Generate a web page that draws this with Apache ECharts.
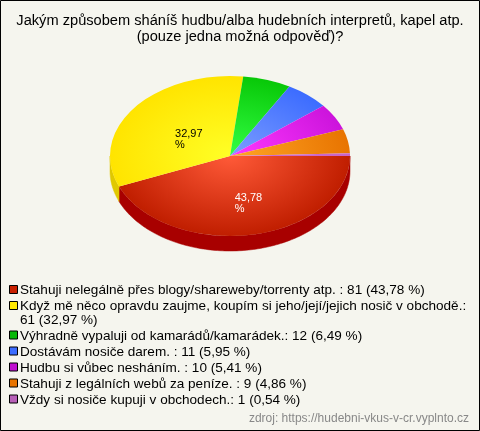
<!DOCTYPE html>
<html><head><meta charset="utf-8">
<style>html,body{margin:0;padding:0;background:#f5f5ee}#c{width:480px;height:431px}</style>
<script src="https://cdn.jsdelivr.net/npm/echarts@6/dist/echarts.min.js"></script>
</head><body><div id="c"></div>
<script>
const titleText = 'Jakým způsobem sháníš hudbu/alba hudebních interpretů, kapel atp.\n(pouze jedna možná odpověď)?';
const sourceText = 'zdroj: https://hudebni-vkus-v-cr.vyplnto.cz';
const categories = [
  'Stahuji nelegálně přes blogy/shareweby/torrenty atp. :',
  'Když mě něco opravdu zaujme, koupím si jeho/její/jejich nosič v obchodě.:',
  'Výhradně vypaluji od kamarádů/kamarádek.:',
  'Dostávám nosiče darem. :',
  'Hudbu si vůbec nesháním. :',
  'Stahuji z legálních webů za peníze. :',
  'Vždy si nosiče kupuji v obchodech.:'
];
const counts = [81, 61, 12, 11, 10, 9, 1];
const percents = ['43,78', '32,97', '6,49', '5,95', '5,41', '4,86', '0,54'];
const wrapped = [false, true, false, false, false, false, false];
const centerColors = ['#ff5a38', '#ffff26', '#33ff44', '#7c9dff', '#ff38ff', '#ffa626', '#d070d0'];
const edgeColors = ['#c01e00', '#ffe400', '#08c808', '#3c6cff', '#cc14dc', '#e87400', '#c864c8'];
const sideColors = ['#a80000', '#e0c800', '#00a000', '#2040c0', '#9000a0', '#b05000', '#904090'];
const legendColors = ['#c82000', '#ffe800', '#08b808', '#3c6cff', '#c010d0', '#e87400', '#b860b8'];

const CX = 230, CY = 156, RX = 120, RY = 80, DEPTH = 15;
const total = counts.reduce((a, b) => a + b, 0);
const FONT = '"Liberation Sans", Arial, sans-serif';

function renderSlice(params, api) {
  const i = params.dataIndex;
  let before = 0;
  for (let k = 0; k < i; k++) before += counts[k];
  const a0 = before / total * Math.PI * 2;
  const a1 = (before + api.value(0)) / total * Math.PI * 2;
  const children = [];
  const s0 = Math.min(a0, Math.PI), s1 = Math.min(a1, Math.PI);
  if (s1 > s0) {
    const top = [], bottom = [];
    const steps = Math.max(2, Math.ceil((s1 - s0) / 0.02));
    for (let n = 0; n <= steps; n++) {
      const a = s0 + (s1 - s0) * n / steps;
      const x = CX + RX * Math.cos(a), y = CY + RY * Math.sin(a);
      top.push([x, y]);
      bottom.unshift([x, y + DEPTH]);
    }
    children.push({ type: 'polygon', shape: { points: top.concat(bottom) },
      style: { fill: sideColors[i], stroke: sideColors[i], lineWidth: 0.5 } });
  }
  children.push({
    type: 'group', x: CX, y: CY, scaleX: 1, scaleY: RY / RX,
    children: [{
      type: 'sector',
      shape: { cx: 0, cy: 0, r0: 0, r: RX, startAngle: a0, endAngle: a1, clockwise: true },
      style: { fill: { type: 'radial', x: 0, y: 0, r: RX, global: true,
        colorStops: [{ offset: 0, color: centerColors[i] }, { offset: 1, color: edgeColors[i] }] } }
    }]
  });
  if (api.value(0) / total > 0.1) {
    const m = (a0 + a1) / 2;
    children.push({
      type: 'text', x: CX + RX * 0.5 * Math.cos(m) - 7, y: CY + RY * 0.5 * Math.sin(m) - 3,
      style: { text: percents[i] + '\n%', font: '11px ' + FONT, lineHeight: 11,
        fill: i === 0 ? '#ffffff' : '#000000' }
    });
  }
  return { type: 'group', children };
}

const graphicEls = [
  { type: 'rect', shape: { x: 0.5, y: 0.5, width: 479, height: 430 }, style: { fill: '#f5f5ee', stroke: '#000', lineWidth: 1 }, z: -10 },
  { type: 'text', x: 240, y: 13, scaleX: 1.045, style: { text: titleText, font: '14px ' + FONT, lineHeight: 16, align: 'center', fill: '#000' } },
  { type: 'text', x: 469, y: 413, style: { text: sourceText, font: '12px ' + FONT, align: 'right', fill: '#888' } }
];
let rowY = 290;
categories.forEach((name, i) => {
  graphicEls.push({ type: 'rect', shape: { x: 9.5, y: rowY - 4.5, width: 8, height: 8 },
    style: { fill: legendColors[i], stroke: '#000', lineWidth: 1 } });
  const value = counts[i] + ' (' + percents[i] + ' %)';
  graphicEls.push({ type: 'text', x: 20, y: rowY - 6.5, scaleX: 1.043,
    style: { text: name + (wrapped[i] ? '\n' : ' ') + value, font: '13px ' + FONT, lineHeight: 14, fill: '#000' } });
  rowY += wrapped[i] ? 29.5 : 16;
});

const chart = echarts.init(document.getElementById('c'), null, { renderer: 'canvas' });
chart.setOption({
  animation: false,
  backgroundColor: '#f5f5ee',
  graphic: graphicEls,
  series: [{
    type: 'custom', coordinateSystem: 'none', renderItem: renderSlice,
    data: counts.map((v, i) => ({ name: categories[i], value: [v] }))
  }]
});
</script></body></html>
